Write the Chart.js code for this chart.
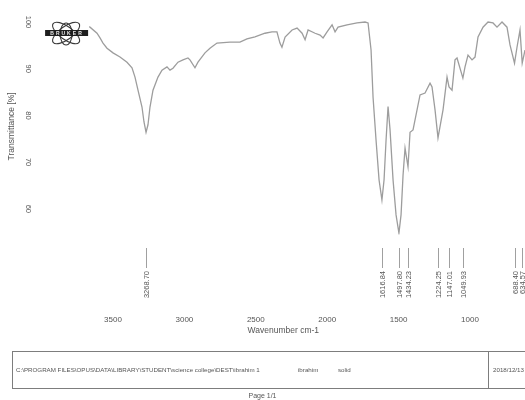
<!DOCTYPE html>
<html>
<head>
<meta charset="utf-8">
<title>IR spectrum – ibrahim 1</title>
<script src="https://cdn.jsdelivr.net/npm/chart.js@4/dist/chart.umd.min.js"></script>
<style>
  html, body { margin: 0; padding: 0; background: #fff; overflow: hidden; }
  #wrap { position: relative; width: 525px; height: 400px; overflow: hidden; background: #fff; }
  #spectrum { position: absolute; left: 0; top: 0; }
  .info { position: absolute; left: 12px; top: 351px; width: 620px; height: 38px;
          border: 1px solid #7d7d7d; box-sizing: border-box;
          font-family: "Liberation Sans", Arial, sans-serif; font-size: 6.2px; color: #555; }
  .info span { position: absolute; top: 14px; white-space: nowrap; line-height: 7px; }
  .info .divider { position: absolute; left: 475px; top: 0; bottom: 0; border-left: 1px solid #7d7d7d; }
  .page { position: absolute; left: 0; width: 525px; top: 392px; text-align: center;
          font-family: "Liberation Sans", Arial, sans-serif; font-size: 7px; color: #555; }
</style>
</head>
<body>
<div id="wrap">
  <canvas id="spectrum" width="525" height="400"></canvas>
  <div class="info">
    <span style="left:3px">C:\PROGRAM FILES\OPUS\DATA\LIBRARY\STUDENT\science college\DEST\ibrahim 1</span>
    <span style="left:285px">ibrahim</span>
    <span style="left:325px">solid</span>
    <div class="divider"></div>
    <span style="left:480px">2018/12/13</span>
  </div>
  <div class="page">Page 1/1</div>
</div>
<script>
// Wavenumber (cm-1) and transmittance (%) of the recorded spectrum
const wavenumbers = [
  3996, 3900, 3800, 3720, 3661, 3612, 3591, 3570, 3542, 3500, 3451, 3402, 3367, 3346, 3325,
  3297, 3283, 3268.70, 3255, 3241, 3220, 3185, 3157, 3122, 3101, 3080, 3045, 3010, 2975, 2961,
  2926, 2905, 2856, 2821, 2772, 2681, 2611, 2562, 2506, 2436, 2387, 2352, 2331, 2317, 2295,
  2246, 2211, 2176, 2155, 2134, 2085, 2050, 2029, 2001, 1966, 1945, 1924, 1861, 1791, 1735,
  1714, 1693, 1679, 1658, 1637, 1616.84, 1602, 1588, 1574, 1560, 1539, 1518, 1497.80, 1483, 1469,
  1455, 1434.23, 1420, 1399, 1350, 1315, 1280, 1266, 1245, 1224.25, 1189, 1161, 1147.01, 1126, 1105,
  1091, 1049.93, 1035, 1014, 986, 965, 944, 909, 874, 839, 811, 776, 741, 720, 688.40,
  671, 650, 634.57, 615
];
const transmittance = [
  100.3, 100.1, 99.8, 99.4, 98.9, 97.6, 96.6, 95.5, 94.4, 93.4, 92.5, 91.4, 90.2, 88.2, 85.4,
  81.8, 78.6, 76.4, 78.0, 81.8, 85.4, 88.2, 89.7, 90.4, 89.7, 90.1, 91.4, 91.9, 92.3, 91.9,
  90.2, 91.4, 93.4, 94.4, 95.5, 95.7, 95.7, 96.4, 96.8, 97.6, 97.9, 97.9, 95.5, 94.6, 96.8,
  98.3, 98.7, 97.6, 96.2, 98.3, 97.6, 97.2, 96.6, 97.9, 99.4, 97.9, 98.9, 99.4, 99.8, 100.0,
  99.8, 94.0, 83.9, 74.7, 66.2, 61.9, 66.2, 74.7, 81.9, 76.9, 66.2, 58.7, 54.8, 58.7, 67.2,
  73.0, 69.0, 76.4, 76.9, 84.4, 84.8, 86.9, 86.1, 81.2, 75.2, 81.2, 88.2, 86.1, 85.4, 91.9,
  92.3, 88.0, 90.4, 92.9, 91.9, 92.5, 96.8, 98.9, 100.0, 99.8, 98.9, 100.0, 98.9, 95.1, 91.2,
  94.6, 98.3, 91.2, 94.0
];
// Picked absorption bands (cm-1)
const peakPositions = [3268.70, 1616.84, 1497.80, 1434.23, 1224.25, 1147.01, 1049.93, 688.40, 634.57];
// Axis tick values (ascending)
const xTickValues = [1000, 1500, 2000, 2500, 3000, 3500];
const yTickValues = [60, 70, 80, 90, 100];

const FONT = '"Liberation Sans", Arial, sans-serif';
const TEXT = '#555';

// OPUS-style instrument badge in the upper left of the plot
const brukerLogo = {
  id: 'brukerLogo',
  afterDatasetsDraw(chart) {
    const { ctx, chartArea } = chart;
    const cx = chartArea.left + 24.5, cy = chartArea.top + 14.7;
    ctx.save();
    ctx.fillStyle = '#fff';
    ctx.fillRect(cx - 27, cy - 17, 50, 33);
    ctx.strokeStyle = '#3a3a3a';
    ctx.lineWidth = 1.1;
    ctx.beginPath(); ctx.ellipse(cx, cy, 16, 6.5, Math.PI / 5, 0, Math.PI * 2); ctx.stroke();
    ctx.beginPath(); ctx.ellipse(cx, cy, 16, 6.5, -Math.PI / 5, 0, Math.PI * 2); ctx.stroke();
    ctx.beginPath(); ctx.ellipse(cx, cy + 1, 6, 11, 0, 0, Math.PI * 2); ctx.stroke();
    ctx.fillStyle = '#1e1e1e';
    ctx.fillRect(cx - 21, cy - 3, 43, 6);
    ctx.fillStyle = '#e8e8e8';
    ctx.font = 'bold 5px ' + FONT;
    ctx.textAlign = 'center';
    ctx.textBaseline = 'middle';
    const letters = 'BRUKER';
    for (let i = 0; i < letters.length; i++) {
      ctx.fillText(letters[i], cx - 14 + i * 5.6, cy + 0.3);
    }
    ctx.restore();
  }
};

// Peak markers with their wavenumbers, written vertically under the trace
const peakMarks = {
  id: 'peakMarks',
  afterDraw(chart) {
    const { ctx, chartArea } = chart;
    const xs = chart.scales.x;
    const top = chartArea.bottom + 13.5;
    ctx.save();
    ctx.strokeStyle = '#a0a0a0';
    ctx.lineWidth = 1;
    ctx.fillStyle = TEXT;
    ctx.font = '7.5px ' + FONT;
    peakPositions.forEach(w => {
      const x = Math.round(xs.getPixelForValue(w)) + 0.5;
      ctx.beginPath();
      ctx.moveTo(x, top);
      ctx.lineTo(x, top + 20);
      ctx.stroke();
      ctx.save();
      ctx.translate(x, top + 23);
      ctx.rotate(-Math.PI / 2);
      ctx.textAlign = 'right';
      ctx.textBaseline = 'middle';
      ctx.fillText(w.toFixed(2), 0, 0);
      ctx.restore();
    });
    ctx.restore();
  }
};

new Chart(document.getElementById('spectrum'), {
  type: 'line',
  data: {
    datasets: [{
      label: 'ibrahim 1',
      data: wavenumbers.map((w, i) => ({ x: w, y: transmittance[i] })),
      borderColor: '#9d9d9d',
      borderWidth: 1.3,
      pointRadius: 0,
      tension: 0,
      fill: false
    }]
  },
  options: {
    responsive: false,
    animation: false,
    events: [],
    layout: { padding: { top: 18.3, left: 0, right: 0, bottom: 65.5 } },
    plugins: { legend: { display: false }, tooltip: { enabled: false } },
    scales: {
      x: {
        type: 'linear',
        reverse: true,
        min: 615,
        max: 4000,
        border: { display: false },
        grid: { display: false, drawTicks: false },
        ticks: {
          padding: 80.7, color: TEXT, font: { family: FONT, size: 8 }, maxRotation: 0, autoSkip: false,
          callback: v => String(v)
        },
        afterBuildTicks(scale) { scale.ticks = xTickValues.map(v => ({ value: v })); },
        afterFit(scale) { scale.height = 100; },
        title: {
          display: true, text: 'Wavenumber cm-1', color: TEXT,
          font: { family: FONT, size: 8.5, lineHeight: 1 }, padding: { top: 0, bottom: 0 }
        }
      },
      y: {
        type: 'linear',
        min: 54.5,
        max: 100.8,
        border: { display: false },
        grid: { display: false, drawTicks: false },
        ticks: {
          padding: 7, color: TEXT, font: { family: FONT, size: 7.5 },
          minRotation: -90, maxRotation: -90, crossAlign: 'center',
          callback: v => String(v)
        },
        afterBuildTicks(scale) { scale.ticks = yTickValues.map(v => ({ value: v })); },
        afterFit(scale) { scale.width = 41.6; },
        title: {
          display: true, text: 'Transmittance [%]', color: TEXT,
          font: { family: FONT, size: 8.5, lineHeight: 1 }, padding: { top: 7.75, bottom: 0 }
        }
      }
    }
  },
  plugins: [brukerLogo, peakMarks]
});
</script>
</body>
</html>
